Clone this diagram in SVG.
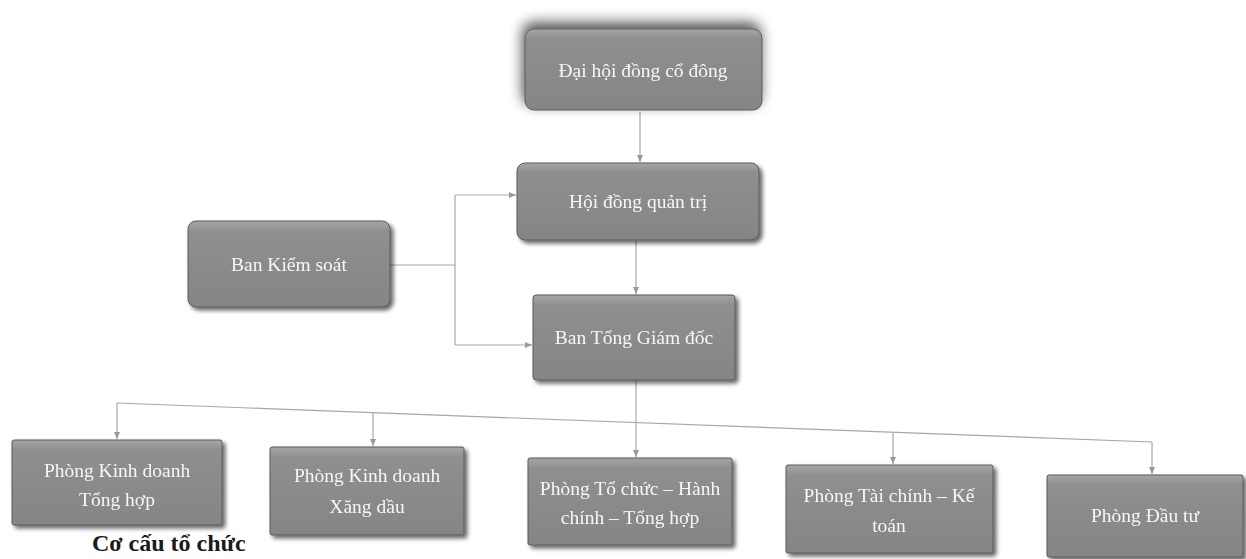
<svg xmlns="http://www.w3.org/2000/svg" width="1246" height="559" viewBox="0 0 1246 559">
<defs>
<style>
.box{fill:url(#g);stroke:#5a5a5a;stroke-width:1}
.lbl{font-family:"Liberation Serif","Times New Roman",serif;font-size:19.5px;fill:#f7f7f7;text-anchor:middle}
.con{fill:none;stroke:#a8a8a8;stroke-width:1.2}
.cap{font-family:"Liberation Serif","Times New Roman",serif;font-size:24px;font-weight:bold;fill:#1a1a1a}
</style>
<linearGradient id="g" x1="0" y1="0" x2="0" y2="1">
<stop offset="0" stop-color="#a6a6a6"/>
<stop offset="0.12" stop-color="#8f8f8f"/>
<stop offset="1" stop-color="#858585"/>
</linearGradient>
<filter id="sh" x="-10%" y="-20%" width="125%" height="150%">
<feGaussianBlur in="SourceAlpha" stdDeviation="2"/>
<feOffset dx="3" dy="3"/>
<feComponentTransfer><feFuncA type="linear" slope="0.6"/></feComponentTransfer>
<feMerge><feMergeNode/><feMergeNode in="SourceGraphic"/></feMerge>
</filter>
<filter id="sh2" x="-20%" y="-50%" width="140%" height="200%">
<feGaussianBlur in="SourceAlpha" stdDeviation="7"/>
<feOffset dx="-2" dy="-6"/>
<feComponentTransfer><feFuncA type="linear" slope="0.7"/></feComponentTransfer>
<feMerge><feMergeNode/><feMergeNode in="SourceGraphic"/></feMerge>
</filter>
<marker id="arr" markerWidth="8" markerHeight="8" refX="7" refY="4" orient="auto" markerUnits="userSpaceOnUse">
<path d="M0,1 L7,4 L0,7 Z" fill="#9a9a9a"/>
</marker>
</defs>
<rect width="1246" height="559" fill="#ffffff"/>

<g id="connectors">
<path class="con" d="M640,112 L640,162" marker-end="url(#arr)"/>
<path class="con" d="M636,240 L636,294" marker-end="url(#arr)"/>
<path class="con" d="M390,265 L455,265"/>
<path class="con" d="M455,195 L455,345"/>
<path class="con" d="M455,195 L516,195" marker-end="url(#arr)"/>
<path class="con" d="M455,345 L532,345" marker-end="url(#arr)"/>
<path class="con" d="M636,380 L636,457" marker-end="url(#arr)"/>
<path class="con" d="M117,403 L1152,442"/>
<path class="con" d="M117,403 L117,439" marker-end="url(#arr)"/>
<path class="con" d="M373,413 L373,446" marker-end="url(#arr)"/>
<path class="con" d="M893,433 L893,464" marker-end="url(#arr)"/>
<path class="con" d="M1152,442 L1152,474" marker-end="url(#arr)"/>
</g>

<g id="n-daihoi" filter="url(#sh2)">
<rect class="box" x="525" y="29" width="237" height="81" rx="9"/>
<text class="lbl" x="643" y="77">Đại hội đồng cổ đông</text>
</g>
<g id="n-hdqt" filter="url(#sh)">
<rect class="box" x="517" y="163" width="242" height="77" rx="8"/>
<text class="lbl" x="638" y="208">Hội đồng quản trị</text>
</g>
<g id="n-bks" filter="url(#sh)">
<rect class="box" x="188" y="221" width="202" height="86" rx="8"/>
<text class="lbl" x="289" y="271">Ban Kiểm soát</text>
</g>
<g id="n-btgd" filter="url(#sh)">
<rect class="box" x="533" y="295" width="202" height="85" rx="3"/>
<text class="lbl" x="634" y="344">Ban Tổng Giám đốc</text>
</g>
<g id="n-pkdth" filter="url(#sh)">
<rect class="box" x="12" y="440" width="210" height="85" rx="2"/>
<text class="lbl" x="117" y="477">Phòng Kinh doanh</text>
<text class="lbl" x="117" y="506">Tổng hợp</text>
</g>
<g id="n-pkdxd" filter="url(#sh)">
<rect class="box" x="270" y="447" width="194" height="88" rx="2"/>
<text class="lbl" x="367" y="482">Phòng Kinh doanh</text>
<text class="lbl" x="367" y="513">Xăng dầu</text>
</g>
<g id="n-ptchc" filter="url(#sh)">
<rect class="box" x="528" y="458" width="204" height="87" rx="2"/>
<text class="lbl" x="630" y="495">Phòng Tổ chức – Hành</text>
<text class="lbl" x="630" y="524">chính – Tổng hợp</text>
</g>
<g id="n-ptckt" filter="url(#sh)">
<rect class="box" x="786" y="465" width="207" height="88" rx="2"/>
<text class="lbl" x="889" y="502">Phòng Tài chính – Kế</text>
<text class="lbl" x="889" y="532">toán</text>
</g>
<g id="n-pdt" filter="url(#sh)">
<rect class="box" x="1047" y="475" width="196" height="82" rx="2"/>
<text class="lbl" x="1145" y="522">Phòng Đầu tư</text>
</g>

<text class="cap" x="92" y="551">Cơ cấu tổ chức</text>
</svg>
